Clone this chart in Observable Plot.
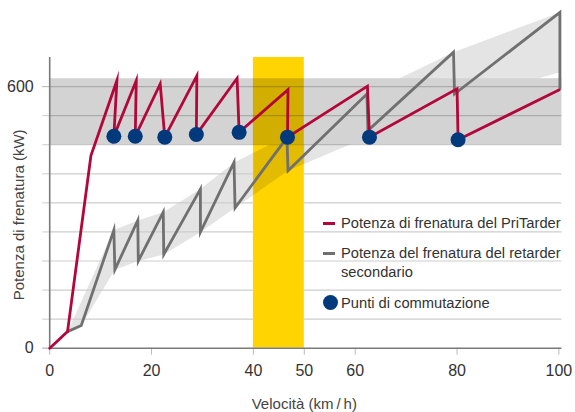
<!DOCTYPE html>
<html>
<head>
<meta charset="utf-8">
<script src="https://cdn.jsdelivr.net/npm/d3@7"></script>
<script src="https://cdn.jsdelivr.net/npm/@observablehq/plot@0.6"></script>
<style>
  html, body { margin: 0; padding: 0; background: #fff; }
  #wrap { position: relative; width: 575px; height: 412px; font-family: "Liberation Sans", Arial, sans-serif; }
  .leg { position: absolute; font-size: 14.7px; color: #333; white-space: nowrap; }
  .sw { position: absolute; }
</style>
</head>
<body>
<div id="wrap"></div>
<script>
// PriTarder braking power (red line)
const redX = [0, 3.5, 8.1, 13.2, 12.6, 17.0, 16.8, 21.7, 22.6, 28.9, 28.8, 36.8, 37.2, 46.8, 46.7, 62.4, 62.8, 80.0, 80.2, 100];
const redY = [0, 38, 442, 614, 486, 614, 486, 606, 484, 625, 490, 619, 495, 593, 484, 601, 484, 595, 478, 592];

// Secondary retarder braking power (grey line)
const grayX = [3.5, 6.2, 12.6, 12.8, 17.3, 17.4, 22.3, 22.4, 29.6, 29.6, 36.2, 36.4, 46.6, 46.8, 62.3, 62.5, 79.3, 79.5, 100.2, 100.2];
const grayY = [38, 52, 271, 180, 293, 200, 312, 215, 365, 266, 426, 322, 483, 407, 583, 499, 679, 583, 770, 595];

// Envelope of the secondary retarder (light grey area)
const envUpX = [3.5, 12.6, 17.3, 22.3, 29.6, 36.2, 46.6, 62.3, 79.3, 100.2];
const envUpY = [38, 271, 293, 312, 365, 426, 487, 583, 679, 770];
const envLoX = [3.5, 6.2, 12.8, 17.4, 22.4, 29.6, 36.4, 46.8, 58.5, 70, 80, 89.6, 100.2];
const envLoY = [38, 52, 180, 200, 215, 266, 322, 407, 465, 517, 562, 597, 633];

// Switching points
const dotX = [12.6, 16.8, 22.6, 28.8, 37.2, 46.7, 62.8, 80.2];
const dotY = [486, 486, 484, 490, 495, 484, 484, 478];

// Bands
const bandY = [466.7, 618];      // grey horizontal band (kW)
const yellowX = [40, 50];        // highlighted speed range (km/h)

// Axes
const xTicks = [0, 20, 40, 50, 60, 80, 100];
const yGrid = [66.7, 133.3, 200, 266.7, 333.3, 400, 466.7, 533.3, 600];
const yLabels = [0, 600];
const yMax = 666.7;
const xMax = 100.6;

const red = toPts(redX, redY);
const gray = toPts(grayX, grayY);
const env = toPts(envUpX, envUpY).concat(toPts(envLoX, envLoY).reverse());
const dots = toPts(dotX, dotY);
function toPts(xs, ys) { return xs.map((x, i) => ({x, y: ys[i]})); }

const gridOut = yGrid.filter(v => v < bandY[0]);
const gridIn = yGrid.filter(v => v > bandY[0] && v <= bandY[1]);
const gridSegs = [];
for (const v of gridOut) { gridSegs.push({y: v, x1: 0, x2: yellowX[0]}); gridSegs.push({y: v, x1: yellowX[1], x2: xMax}); }

const YELLOW = "#ffd400";
const ENV_OVERLAY = "#010101";
const chart = Plot.plot({
  width: 575,
  height: 412,
  marginLeft: 49.2,
  marginRight: 16.6,
  marginTop: 57,
  marginBottom: 64.3,
  x: {domain: [0, 100]},
  y: {domain: [0, yMax]},
  style: {fontFamily: "'Liberation Sans', Arial, sans-serif", fontSize: "16px", color: "#333", background: "#fff"},
  marks: [
    Plot.line(env, {x: "x", y: "y", fill: "#e4e4e4", stroke: "none"}),
    Plot.ruleY(gridSegs, {y: "y", x1: "x1", x2: "x2", stroke: "#cdcdcd", strokeWidth: 1.2}),
    Plot.rect([bandY], {x1: 0, x2: xMax, y1: d => d[0], y2: d => d[1], fill: "#d3d3d3"}),
    Plot.rect([yellowX], {x1: d => d[0], x2: d => d[1], y1: 0, y2: yMax, fill: YELLOW}),
    // grey envelope seen through the yellow band (clipped below)
    Plot.line(env, {x: "x", y: "y", fill: ENV_OVERLAY, fillOpacity: 0.11, stroke: "none"}),
    // grey band seen through the yellow band
    Plot.rect([yellowX], {x1: d => d[0], x2: d => d[1], y1: bandY[0], y2: bandY[1], fill: "#000", fillOpacity: 0.175}),
    Plot.ruleY(gridIn.concat([bandY[0]]), {x1: 0, x2: xMax, stroke: "#000", strokeOpacity: 0.19, strokeWidth: 1.2}),
    Plot.axisY({ticks: yGrid.concat([0]), tickSize: 7, tickFormat: () => "", stroke: "#cdcdcd", label: null}),
    Plot.axisY({ticks: yLabels, tickSize: 7, tickPadding: 9, stroke: "#bbb", fill: "#333", label: null, fontSize: 16}),
    Plot.axisX({ticks: xTicks, tickSize: 7, tickPadding: 9, stroke: "#bbb", fill: "#333", label: null, fontSize: 16}),
    Plot.ruleX([0], {y1: 0, y2: yMax, stroke: "#7a7a7a", strokeWidth: 1.6}),
    Plot.ruleY([0], {x1: 0, x2: xMax, stroke: "#7a7a7a", strokeWidth: 1.6}),
    Plot.text(["Velocità (km\u2009/\u2009h)"], {frameAnchor: "bottom", dy: 61, fontSize: 15, fill: "#444"}),
    Plot.text(["Potenza di frenatura (kW)"], {frameAnchor: "left", textAnchor: "middle", rotate: -90, dx: -31, dy: 12, fontSize: 15, fill: "#444"}),
    Plot.line(gray, {x: "x", y: "y", stroke: "#707070", strokeWidth: 2.8, strokeLinejoin: "miter", strokeMiterlimit: 10}),
    Plot.line(red, {x: "x", y: "y", stroke: "#b3063b", strokeWidth: 2.8, strokeLinejoin: "miter", strokeMiterlimit: 10}),
    Plot.dot(dots, {x: "x", y: "y", r: 7.5, fill: "#003a7d", stroke: "none"})
  ]
});

// Clip the envelope overlay to the part of the yellow band below the grey band
const sx = chart.scale("x"), sy = chart.scale("y");
const svg = d3.select(chart.tagName.toLowerCase() === "svg" ? chart : chart.querySelector("svg"));
const defs = svg.insert("defs", ":first-child");
const x0 = sx.apply(yellowX[0]), x1 = sx.apply(yellowX[1]);
const yTop = sy.apply(bandY[0]), yBot = sy.apply(0);
defs.append("clipPath").attr("id", "yclip").append("rect")
  .attr("x", x0).attr("y", yTop).attr("width", x1 - x0).attr("height", yBot - yTop);
svg.selectAll("*").each(function() {
  const f = this.getAttribute && this.getAttribute("fill");
  if (f && f.toLowerCase() === ENV_OVERLAY) this.setAttribute("clip-path", "url(#yclip)");
});

const wrap = document.getElementById("wrap");
wrap.appendChild(chart);

// Legend (HTML, over the plot area)
const legendItems = [
  {kind: "line", color: "#b3063b", lines: ["Potenza di frenatura del PriTarder"], cy: 223.3},
  {kind: "line", color: "#707070", lines: ["Potenza del frenatura del retarder", "secondario"], cy: 253.3},
  {kind: "dot", color: "#003a7d", lines: ["Punti di commutazione"], cy: 302.7}
];
const lh = 18.4;
for (const it of legendItems) {
  const sw = document.createElement("div");
  sw.className = "sw";
  if (it.kind === "line") {
    Object.assign(sw.style, {left: "323px", top: (it.cy - 1.5) + "px", width: "12px", height: "3px", background: it.color});
  } else {
    Object.assign(sw.style, {left: "323px", top: (it.cy - 7.5) + "px", width: "15px", height: "15px", borderRadius: "50%", background: it.color});
  }
  wrap.appendChild(sw);
  const t = document.createElement("div");
  t.className = "leg";
  t.style.left = "341px";
  t.style.top = (it.cy - lh / 2) + "px";
  t.style.lineHeight = lh + "px";
  t.innerHTML = it.lines.join("<br>");
  wrap.appendChild(t);
}
</script>
</body>
</html>
